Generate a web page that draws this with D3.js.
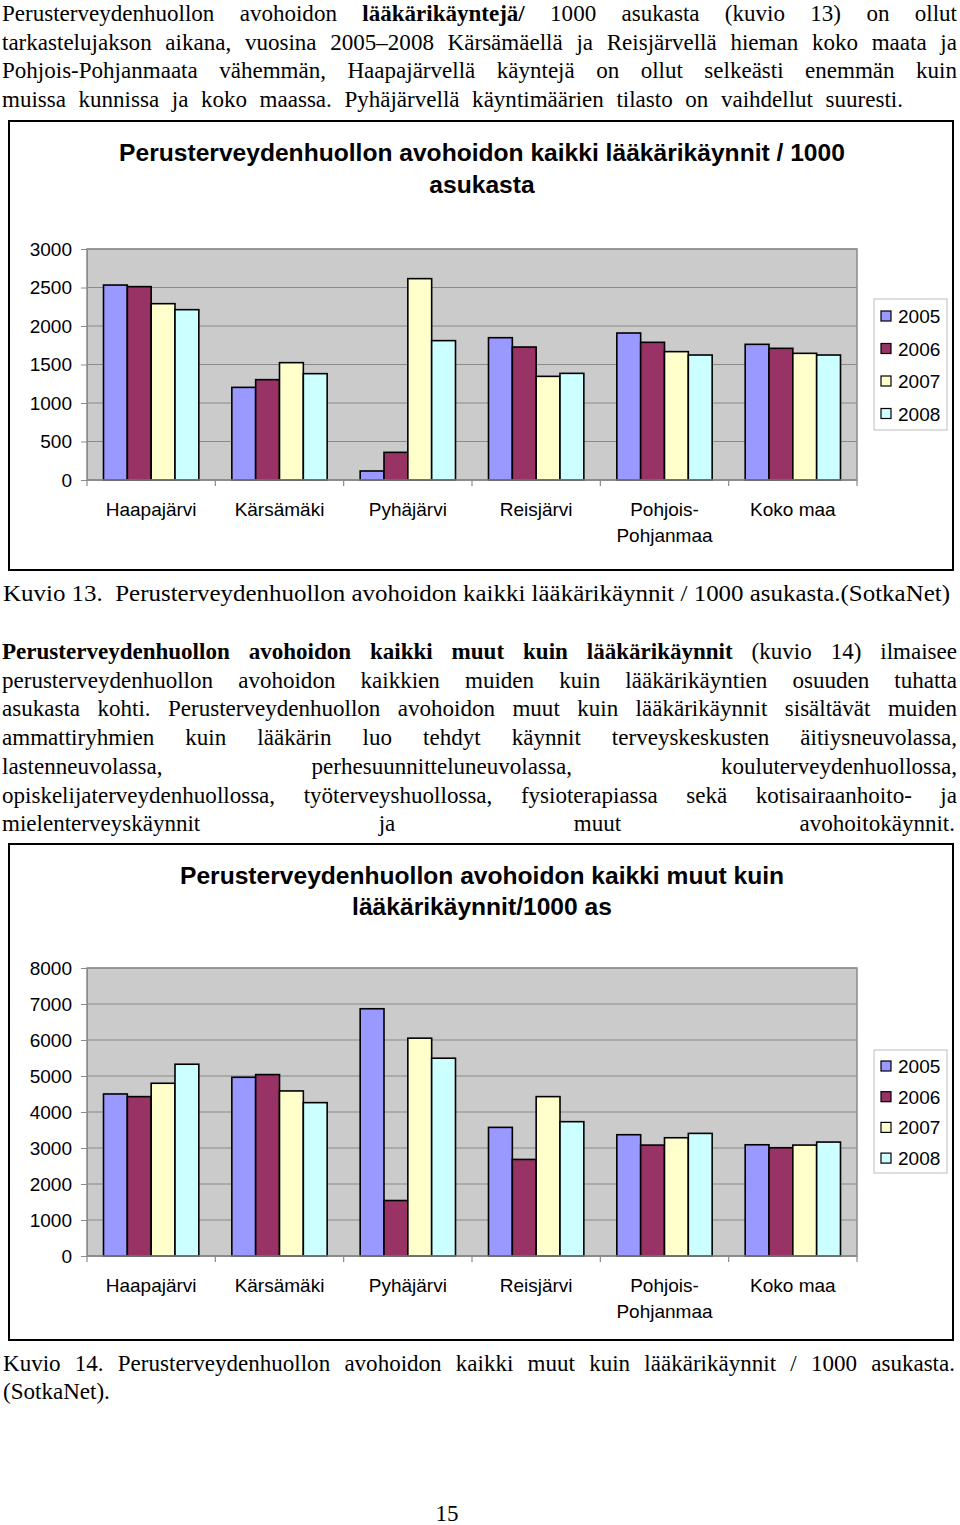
<!DOCTYPE html>
<html>
<head>
<meta charset="utf-8">
<script src="https://cdnjs.cloudflare.com/ajax/libs/d3/7.8.5/d3.min.js"></script>
<style>
body{margin:0;background:#fff;}
</style>
</head>
<body>
<svg id="sivu" width="960" height="1525"></svg>
<script>
// data luettu kuvasta
var kunnat = ["Haapajärvi","Kärsämäki","Pyhäjärvi","Reisjärvi","Pohjois-Pohjanmaa","Koko maa"];
var kunnatRivit = [["Haapajärvi"],["Kärsämäki"],["Pyhäjärvi"],["Reisjärvi"],["Pohjois-","Pohjanmaa"],["Koko maa"]];
var vuodet = ["2005","2006","2007","2008"];
var varit = ["#9999ff","#993366","#ffffcc","#ccffff"];

// kuvio 13: lääkärikäynnit / 1000 as
var laakari2005 = [2532,1203,117,1848,1909,1762];
var laakari2006 = [2511,1303,359,1727,1788,1710];
var laakari2007 = [2290,1524,2615,1346,1667,1645];
var laakari2008 = [2212,1381,1810,1385,1623,1623];
var laakariTicks = [0,500,1000,1500,2000,2500,3000];

// kuvio 14: muut kuin lääkärikäynnit / 1000 as
var muut2005 = [4501,4965,6868,3573,3369,3090];
var muut2006 = [4427,5039,1541,2682,3081,3007];
var muut2007 = [4798,4585,6051,4427,3285,3081];
var muut2008 = [5327,4260,5494,3731,3406,3165];
var muutTicks = [0,1000,2000,3000,4000,5000,6000,7000,8000];

var svg = d3.select("#sivu");
var serif = "'Liberation Serif','Times New Roman',serif";
var sans = "'Liberation Sans',Arial,sans-serif";
var sx = 0.96; // fontti vähän kapeampi kuin Times

// tasataan rivi: osat = [[teksti,lihavoitu],...]
function rivi(y, osat, x0, x1, tasaa, koko){
    koko = koko || 24;
    var sanat = [];
    osat.forEach(function(o){
        o[0].split(" ").filter(function(s){return s.length;}).forEach(function(s){ sanat.push({t:s,b:o[1]}); });
    });
    var g = svg.append("g").attr("transform","scale("+sx+",1)");
    var nodes = sanat.map(function(s){
        return g.append("text").attr("y",y).attr("font-family",serif).attr("font-size",koko)
            .attr("font-weight",s.b?"bold":"normal").attr("fill","#000").text(s.t);
    });
    var lev = nodes.map(function(n){return n.node().getComputedTextLength()*sx;});
    var summa = d3.sum(lev);
    var vali = koko*0.25*sx;
    if(tasaa && sanat.length>1) vali = (x1-x0-summa)/(sanat.length-1);
    var x = x0;
    nodes.forEach(function(n,i){ n.attr("x",x/sx); x += lev[i]+vali; });
}

// venytetty rivi (kuvateksti ilman tasausta)
function venyta(y, teksti, x0, x1){
    svg.append("text").attr("x",x0).attr("y",y).attr("font-family",serif).attr("font-size",24)
        .attr("textLength",x1-x0).attr("lengthAdjust","spacingAndGlyphs").attr("xml:space","preserve").text(teksti);
}

function kaavio(c){
    var g = svg.append("g");
    g.append("rect").attr("x",c.box[0]).attr("y",c.box[1]).attr("width",c.box[2]-c.box[0]).attr("height",c.box[3]-c.box[1])
        .attr("fill","#fff").attr("stroke","#000").attr("stroke-width",2);
    c.otsikko.forEach(function(t,i){
        g.append("text").attr("x",482).attr("y",c.otsikkoY[i]).attr("text-anchor","middle")
            .attr("font-family",sans).attr("font-weight","bold").attr("font-size",24.6).text(t);
    });
    var x0 = d3.scaleBand().domain(kunnat).range([87,857]);
    var x1 = d3.scaleBand().domain(vuodet).range([16.5,x0.bandwidth()-16.5]);
    var y = d3.scaleLinear().domain([0,c.max]).range([c.ala,c.yla]);

    g.append("rect").attr("x",87).attr("y",c.yla).attr("width",770).attr("height",c.ala-c.yla)
        .attr("fill","#cbcbcb").attr("stroke","#8a8a8a").attr("stroke-width",1.5);
    g.selectAll(".grid").data(c.ticks).enter().append("line")
        .attr("x1",87).attr("x2",857).attr("y1",function(d){return y(d);}).attr("y2",function(d){return y(d);})
        .attr("stroke","#8a8a8a").attr("stroke-width",1.2);

    var yAks = d3.axisLeft(y).tickValues(c.ticks).tickFormat(d3.format("d")).tickSize(6).tickPadding(9);
    var ya = g.append("g").attr("transform","translate(87,0)").call(yAks);
    ya.select(".domain").attr("stroke","#8a8a8a");
    ya.selectAll(".tick line").attr("stroke","#8a8a8a");
    ya.selectAll("text").attr("font-family",sans).attr("font-size",19).attr("fill","#000");

    var sarjat = c.sarjat;
    kunnat.forEach(function(k,i){
        vuodet.forEach(function(v,j){
            var arvo = sarjat[j][i];
            g.append("rect").attr("x",x0(k)+x1(v)).attr("y",y(arvo)).attr("width",x1.bandwidth())
                .attr("height",y(0)-y(arvo)).attr("fill",varit[j]).attr("stroke","#000").attr("stroke-width",1.6);
        });
    });

    // x-akselin väliviivat
    var rajat = kunnat.map(function(k){return x0(k);}).concat([857]);
    g.selectAll(".xt").data(rajat).enter().append("line")
        .attr("x1",function(d){return d;}).attr("x2",function(d){return d;})
        .attr("y1",c.ala).attr("y2",c.ala+6).attr("stroke","#8a8a8a").attr("stroke-width",1.2);
    g.append("line").attr("x1",87).attr("x2",857).attr("y1",c.ala).attr("y2",c.ala).attr("stroke","#8a8a8a").attr("stroke-width",1.5);

    kunnat.forEach(function(k,i){
        kunnatRivit[i].forEach(function(t,r){
            g.append("text").attr("x",x0(k)+x0.bandwidth()/2).attr("y",c.ala+36+r*26).attr("text-anchor","middle")
                .attr("font-family",sans).attr("font-size",19).text(t);
        });
    });

    // selite
    var L = c.selite;
    g.append("rect").attr("x",874).attr("y",L.y0).attr("width",73).attr("height",L.y1-L.y0)
        .attr("fill","#fff").attr("stroke","#c8c8c8").attr("stroke-width",1.2);
    vuodet.forEach(function(v,j){
        var yy = L.eka + j*L.vali;
        g.append("rect").attr("x",881).attr("y",yy-5).attr("width",10).attr("height",10)
            .attr("fill",varit[j]).attr("stroke","#000").attr("stroke-width",1.2);
        g.append("text").attr("x",898).attr("y",yy+7).attr("font-family",sans).attr("font-size",19).text(v);
    });
}

// leipäteksti 1
var L0=2, L1=957;
rivi(21,[["Perusterveydenhuollon avohoidon",false],["lääkärikäyntejä/",true],["1000 asukasta (kuvio 13) on ollut",false]],L0,L1,true);
rivi(50,[["tarkastelujakson aikana, vuosina 2005–2008 Kärsämäellä ja Reisjärvellä hieman koko maata ja",false]],L0,L1,true);
rivi(78,[["Pohjois-Pohjanmaata vähemmän, Haapajärvellä käyntejä on ollut selkeästi enemmän kuin",false]],L0,L1,true);
rivi(107,[["muissa kunnissa ja koko maassa. Pyhäjärvellä käyntimäärien tilasto on vaihdellut suuresti.",false]],L0,903,true);

kaavio({
    box:[9,121,953,570], otsikko:["Perusterveydenhuollon avohoidon kaikki lääkärikäynnit / 1000","asukasta"],
    otsikkoY:[161,193], max:3000, ticks:laakariTicks, yla:249, ala:480,
    sarjat:[laakari2005,laakari2006,laakari2007,laakari2008],
    selite:{y0:299,y1:430,eka:316,vali:32.5}
});

venyta(601,"Kuvio 13.  Perusterveydenhuollon avohoidon kaikki lääkärikäynnit / 1000 asukasta.(SotkaNet)",3,950);

rivi(659,[["Perusterveydenhuollon avohoidon kaikki muut kuin lääkärikäynnit",true],["(kuvio 14) ilmaisee",false]],L0,L1,true);
rivi(688,[["perusterveydenhuollon avohoidon kaikkien muiden kuin lääkärikäyntien osuuden tuhatta",false]],L0,L1,true);
rivi(716,[["asukasta kohti. Perusterveydenhuollon avohoidon muut kuin lääkärikäynnit sisältävät muiden",false]],L0,L1,true);
rivi(745,[["ammattiryhmien kuin lääkärin luo tehdyt käynnit terveyskeskusten äitiysneuvolassa,",false]],L0,L1,true);
rivi(774,[["lastenneuvolassa, perhesuunnitteluneuvolassa, kouluterveydenhuollossa,",false]],L0,L1,true);
rivi(803,[["opiskelijaterveydenhuollossa, työterveyshuollossa, fysioterapiassa sekä kotisairaanhoito- ja",false]],L0,L1,true);
rivi(831,[["mielenterveyskäynnit ja muut avohoitokäynnit.",false]],L0,955,true);

kaavio({
    box:[9,844,953,1340], otsikko:["Perusterveydenhuollon avohoidon kaikki muut kuin","lääkärikäynnit/1000 as"],
    otsikkoY:[884,915], max:8000, ticks:muutTicks, yla:968, ala:1256,
    sarjat:[muut2005,muut2006,muut2007,muut2008],
    selite:{y0:1050,y1:1173,eka:1066,vali:30.7}
});

rivi(1371,[["Kuvio 14. Perusterveydenhuollon avohoidon kaikki muut kuin lääkärikäynnit / 1000 asukasta.",false]],3,955,true);
rivi(1399,[["(SotkaNet).",false]],3,955,false);

svg.append("text").attr("x",447).attr("y",1521).attr("text-anchor","middle")
    .attr("font-family",serif).attr("font-size",23).text("15");
</script>
</body>
</html>
